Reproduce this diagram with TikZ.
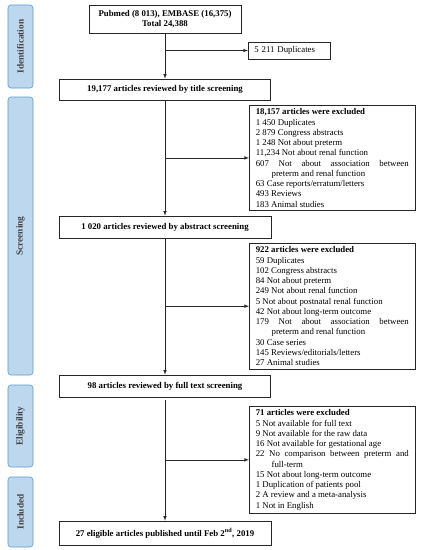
\documentclass[tikz,border=0pt]{standalone}
\usepackage{fontspec}
\setmainfont{Liberation Serif}
\definecolor{stageblue}{RGB}{91,155,213}
\definecolor{stagefill}{RGB}{189,215,238}
\definecolor{stagetext}{RGB}{64,64,64}
\newcommand{\hangitem}[1]{\par\hangindent=1.8em\hangafter=1 #1\par}
\begin{document}
\begin{tikzpicture}[x=1pt,y=-1pt,
	font=\fontsize{8.8}{10.25}\selectfont,
	mainbox/.style={draw=black!85, line width=0.6pt, align=center, inner sep=2pt,
		font=\fontsize{8.8}{10.25}\selectfont\bfseries},
	exclbox/.style={draw=black!85, line width=0.6pt, anchor=north west, text width=153pt,
		align=justify, inner xsep=6.5pt, inner ysep=3.4pt},
	stage/.style={draw=stageblue, fill=stagefill, rounded corners=3pt, line width=0.6pt,
		rotate=90, minimum height=25pt, text=stagetext, font=\fontsize{9.3}{10}\selectfont\bfseries},
	arr/.style={-latex, line width=0.6pt, draw=black!85}]
	\useasboundingbox (0,0) rectangle (422,550);
	% stages on the left
	\node[stage, minimum width=83pt] (ident) at (20.5,46.5) {Identification};
	\node[stage, minimum width=278pt] (screen) at (20.5,236) {Screening};
	\node[stage, minimum width=82pt] (elig) at (20.5,426) {Eligibility};
	\node[stage, minimum width=70pt] (incl) at (20.5,512) {Included};
	% main column
	\node[mainbox, minimum width=152pt, minimum height=28pt] (src) at (165,19)
		{Pubmed (8 013), EMBASE (16,375)\\Total 24,388};
	\node[draw=black!85, line width=0.6pt, anchor=west, text width=70pt, inner xsep=6pt,
		minimum height=17pt] (dup) at (248,50.5) {5 211 Duplicates};
	\node[mainbox, minimum width=211pt, minimum height=21pt] (title) at (165,89.5)
		{19,177 articles reviewed by title screening};
	\node[mainbox, minimum width=212pt, minimum height=22pt] (abs) at (165,227)
		{1 020 articles reviewed by abstract screening};
	\node[mainbox, minimum width=211pt, minimum height=22pt] (full) at (165,386)
		{98 articles reviewed by full text screening};
	\node[mainbox, minimum width=212pt, minimum height=24pt] (final) at (165,533)
		{27 eligible articles published until Feb 2\textsuperscript{nd}, 2019};
	% exclusion boxes
	\node[exclbox] (excl1) at (249,105) {\parindent=0pt
		\textbf{18,157 articles were excluded}\par
		1 450 Duplicates\par
		2 879 Congress abstracts\par
		1 248 Not about preterm\par
		11,234 Not about renal function
		\hangitem{607 Not about association between\linebreak preterm and renal function}
		63 Case reports/erratum/letters\par
		493 Reviews\par
		183 Animal studies};
	\node[exclbox] (excl2) at (249,243) {\parindent=0pt
		\textbf{922 articles were excluded}\par
		59 Duplicates\par
		102 Congress abstracts\par
		84 Not about preterm\par
		249 Not about renal function\par
		5 Not about postnatal renal function\par
		42 Not about long-term outcome
		\hangitem{179 Not about association between\linebreak preterm and renal function}
		30 Case series\par
		145 Reviews/editorials/letters\par
		27 Animal studies};
	\node[exclbox] (excl3) at (249,406) {\parindent=0pt
		\textbf{71 articles were excluded}\par
		5 Not available for full text\par
		9 Not available for the raw data\par
		16 Not available for gestational age
		\hangitem{22 No comparison between preterm and\linebreak full-term}
		15 Not about long-term outcome\par
		1 Duplication of patients pool\par
		2 A review and a meta-analysis\par
		1 Not in English};
	% connectors
	\draw[arr] (src.south) -- (title.north);
	\draw[arr] (title.north |- dup.west) -- (dup.west);
	\draw[arr] (title.south) -- (abs.north);
	\draw[arr] (title.south |- excl1.west) -- (excl1.west);
	\draw[arr] (abs.south) -- (full.north);
	\draw[arr] (abs.south |- excl2.west) -- (excl2.west);
	\draw[arr] ([yshift=-3pt]full.south) -- (final.north);
	\draw[arr] (full.south |- excl3.west) -- (excl3.west);
\end{tikzpicture}
\end{document}
